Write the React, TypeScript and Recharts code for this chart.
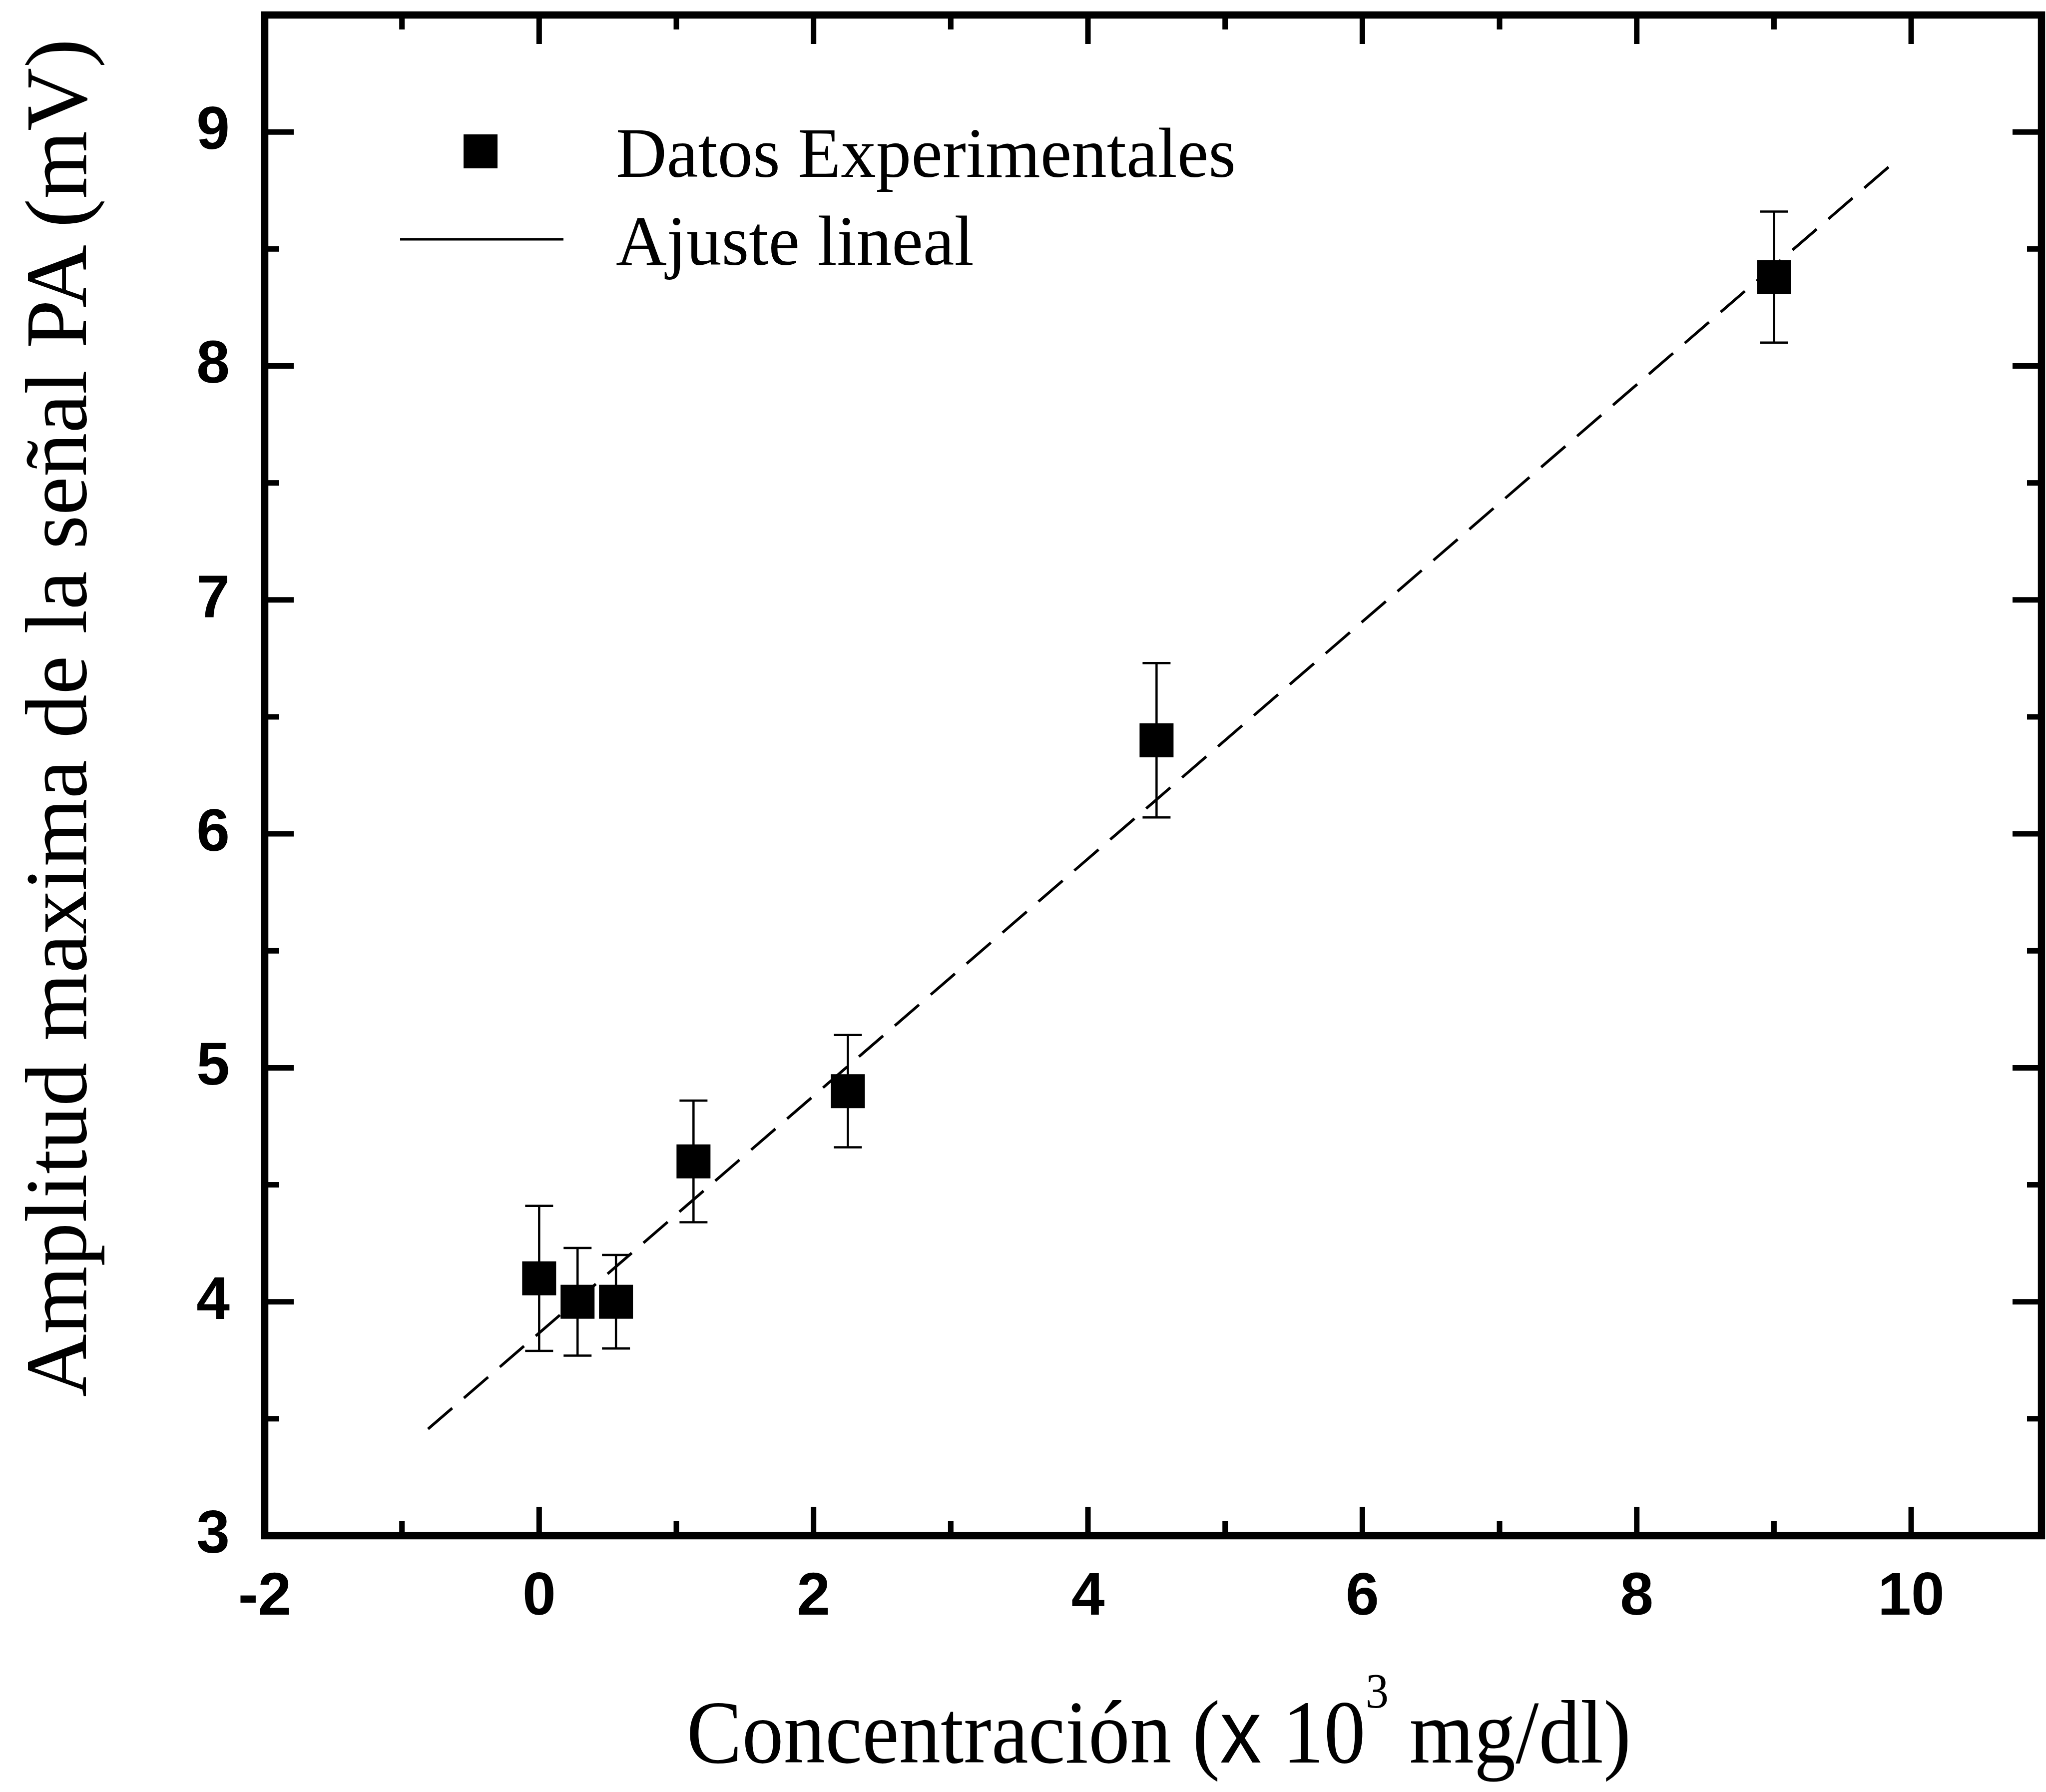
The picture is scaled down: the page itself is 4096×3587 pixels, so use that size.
import React from 'react';
import { ScatterChart, Scatter, XAxis, YAxis, ErrorBar, ReferenceArea } from 'recharts';

// ---- data ----
const concentration = [0, 0.28, 0.56, 1.125, 2.25, 4.5, 9];
const amplitude = [4.1, 4.0, 4.0, 4.6, 4.9, 6.4, 8.38];
const amplitudeError = [0.31, 0.23, 0.2, 0.26, 0.24, 0.33, 0.28];
const fitX = [-0.81, 9.9];
const fitY = [3.456, 8.883];
const xTicks = [-2, -1, 0, 1, 2, 3, 4, 5, 6, 7, 8, 9, 10];
const yTicks = [3, 3.5, 4, 4.5, 5, 5.5, 6, 6.5, 7, 7.5, 8, 8.5, 9, 9.5];
const xDomain = [-2, 10.95];
const yDomain = [3, 9.5];
const seriesNames = ['Datos Experimentales', 'Ajuste lineal'];
const xTitle = 'Concentración';
const yTitle = 'Amplitud maxima de la señal PA (mV)';

// ---- layout ----
const W = 4096;
const H = 3587;
const PL = 530;
const PR = 4087;
const PT = 30;
const PB = 3074;
const MAJOR = 58;
const MINOR = 29;
const TICK_W = 11;
const SANS = 'Liberation Sans, Arial, sans-serif';
const SERIF = 'Liberation Serif, Times New Roman, serif';

const expData = concentration.map((x, i) => ({ x, y: amplitude[i], err: amplitudeError[i] }));
const fitData = fitX.map((x, i) => ({ x, y: fitY[i] }));

const XTick = (props: any) => {
  const { x, payload } = props;
  const v = payload.value;
  const major = Math.abs(v % 2) === 0;
  const len = major ? MAJOR : MINOR;
  return (
    <g>
      <line x1={x} x2={x} y1={PB} y2={PB - len} stroke="#000" strokeWidth={TICK_W} />
      <line x1={x} x2={x} y1={PT} y2={PT + len} stroke="#000" strokeWidth={TICK_W} />
      {major ? (
        <text x={x} y={3232} textAnchor="middle" fontFamily={SANS} fontWeight="bold" fontSize={120} fill="#000">
          {v}
        </text>
      ) : null}
    </g>
  );
};

const YTick = (props: any) => {
  const { y, payload } = props;
  const v = payload.value;
  const major = Number.isInteger(v);
  const len = major ? MAJOR : MINOR;
  return (
    <g>
      <line x1={PL} x2={PL + len} y1={y} y2={y} stroke="#000" strokeWidth={TICK_W} />
      <line x1={PR} x2={PR - len} y1={y} y2={y} stroke="#000" strokeWidth={TICK_W} />
      {major && v <= 9 ? (
        <text x={460} y={y + 34} textAnchor="end" fontFamily={SANS} fontWeight="bold" fontSize={120} fill="#000">
          {v}
        </text>
      ) : null}
    </g>
  );
};

const SquareShape = (props: any) => {
  const { cx, cy } = props;
  if (cx == null || cy == null) return <g />;
  return <rect x={cx - 34} y={cy - 34} width={68} height={68} fill="#000" />;
};

const Decorations = () => (
  <g>
    {/* legend */}
    <rect x={962 - 34} y={303 - 34} width={68} height={68} fill="#000" />
    <text x={1233} y={354} fontFamily={SERIF} fontSize={141} fill="#000">
      {seriesNames[0]}
    </text>
    <line x1={801} x2={1128} y1={479} y2={479} stroke="#000" strokeWidth={5} />
    <text x={1233} y={530} fontFamily={SERIF} fontSize={141} fill="#000">
      {seriesNames[1]}
    </text>
    {/* x title */}
    <text
      transform="translate(2320,3528) scale(0.925,1)"
      textAnchor="middle"
      fontFamily={SERIF}
      fontSize={180}
      fill="#000"
    >
      {xTitle} (<tspan fontFamily={SANS}>x</tspan> 10
      <tspan dy={-110} fontSize={100}>3</tspan>
      <tspan dy={110}> mg/dl)</tspan>
    </text>
    {/* y title */}
    <text
      transform="translate(172,1437) rotate(-90) scale(0.992,1)"
      textAnchor="middle"
      fontFamily={SERIF}
      fontSize={176}
      fill="#000"
    >
      {yTitle}
    </text>
  </g>
);

export default function App() {
  return (
    <div style={{ position: 'absolute', left: 0, top: 0, width: W, height: H, background: '#fff' }}>
      <ScatterChart
        width={W}
        height={H}
        margin={{ top: PT, left: PL - 1, right: W - PR, bottom: H - PB - 1 }}
      >
        <XAxis
          type="number"
          dataKey="x"
          domain={xDomain}
          ticks={xTicks}
          interval={0}
          allowDataOverflow
          tick={XTick}
          tickLine={false}
          axisLine={false}
          height={1}
          tickSize={0}
        />
        <YAxis
          type="number"
          dataKey="y"
          domain={yDomain}
          ticks={yTicks}
          interval={0}
          allowDataOverflow
          tick={YTick}
          tickLine={false}
          axisLine={false}
          width={1}
          tickSize={0}
        />
        <ReferenceArea
          x1={xDomain[0]}
          x2={xDomain[1]}
          y1={yDomain[0]}
          y2={yDomain[1]}
          fill="none"
          fillOpacity={0}
          stroke="#000"
          strokeWidth={14.5}
          strokeOpacity={1}
        />
        <Scatter
          name={seriesNames[1]}
          data={fitData}
          line={{ stroke: '#000', strokeWidth: 5.5, strokeDasharray: '64 31' }}
          lineType="joint"
          shape={() => <g />}
          isAnimationActive={false}
        />
        <Scatter name={seriesNames[0]} data={expData} shape={SquareShape} isAnimationActive={false}>
          <ErrorBar dataKey="err" direction="y" width={28} strokeWidth={4.5} stroke="#000" />
        </Scatter>
        <Decorations />
      </ScatterChart>
    </div>
  );
}
